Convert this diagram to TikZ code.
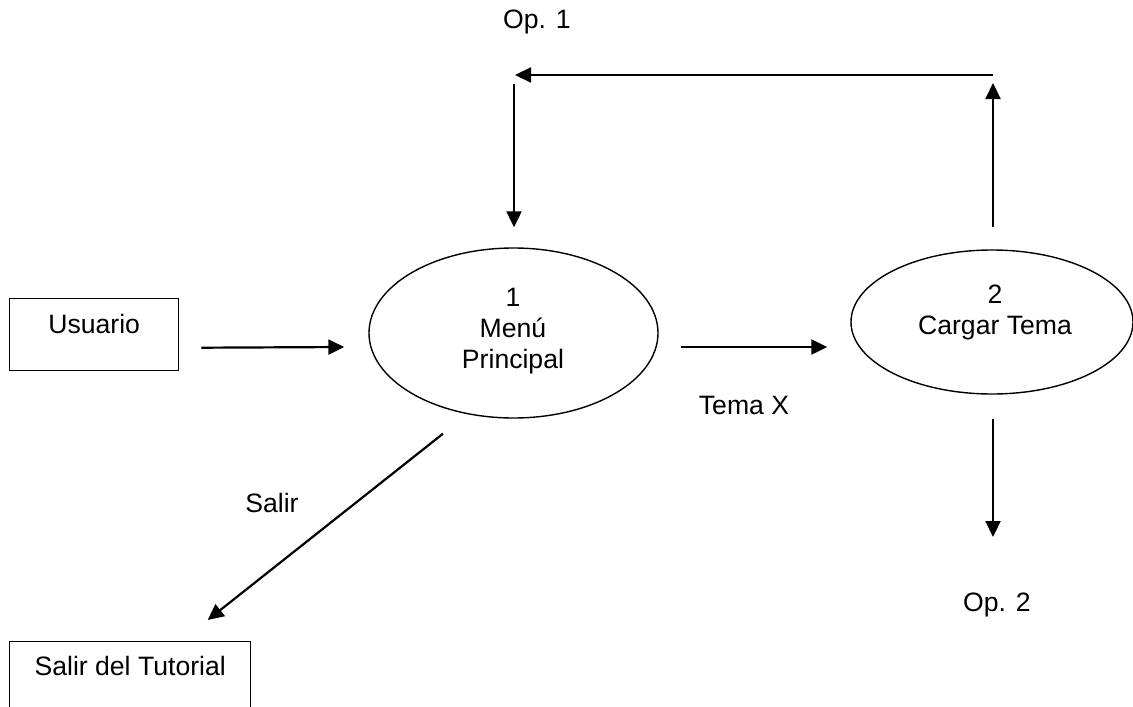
\documentclass[tikz,border=0pt]{standalone}
\usepackage{fontspec}
\setmainfont{Liberation Sans}
\usetikzlibrary{arrows.meta,shapes.geometric}
\begin{document}
\begin{tikzpicture}[x=1pt,y=-1pt,
  every node/.style={font=\fontsize{26.6}{31}\selectfont},
  entity/.style={draw,line width=1.4pt,rectangle,inner sep=0pt,anchor=north west},
  procbox/.style={draw,line width=1.4pt,ellipse,inner sep=0pt},
  flow/.style={line width=2.2pt,-{Triangle[length=16pt,width=15pt]}}]
\useasboundingbox (0,0) rectangle (1133,707);

% external entities
\node[entity,minimum width=169pt,text height=35pt,text depth=37pt] (usr) at (9,298) {Usuario};
\node[entity,minimum width=241pt,text height=34pt,text depth=45pt] (exit) at (9,641) {Salir del Tutorial};

% processes
\node[procbox,minimum width=289pt,minimum height=170pt] (p1) at (513.5,333) {};
\node[align=center] (p1txt) at (513,331) {1\\Menú\\Principal};
\node[procbox,minimum width=282pt,minimum height=144pt] (p2) at (992,322) {};
\node[align=center] (p2txt) at (995,312) {2\\Cargar Tema};

% flow labels
\node (op1) at (537,22) {Op. 1};
\node (temax) at (744,405) {Tema X};
\node (salir) at (272,503) {Salir};
\node (op2) at (997,605) {Op. 2};

% return loop corners
\coordinate (cornerR) at (993,75);
\coordinate (cornerL) at (514,75);

% flows
\draw[flow] ([shift={(22,13)}]usr.east) -- ([shift={(-24,14)}]p1.west);
\draw[flow] ([shift={(22,14)}]p1.east) -- ([shift={(-23,25)}]p2.west);
\draw[flow] ([shift={(1,-22)}]p2.north) -- ([shift={(0,8)}]cornerR);
\draw[flow] (cornerR) -- ([shift={(1,0)}]cornerL);
\draw[flow] ([shift={(0,9)}]cornerL) -- ([shift={(0.5,-20)}]p1.north);
\draw[flow] ([shift={(1,24)}]p2.south) -- ([shift={(-4,-68)}]op2.center);
\draw[flow] ([shift={(-70.5,15)}]p1.south) -- ([shift={(77.5,-21)}]exit.north);
\end{tikzpicture}
\end{document}
